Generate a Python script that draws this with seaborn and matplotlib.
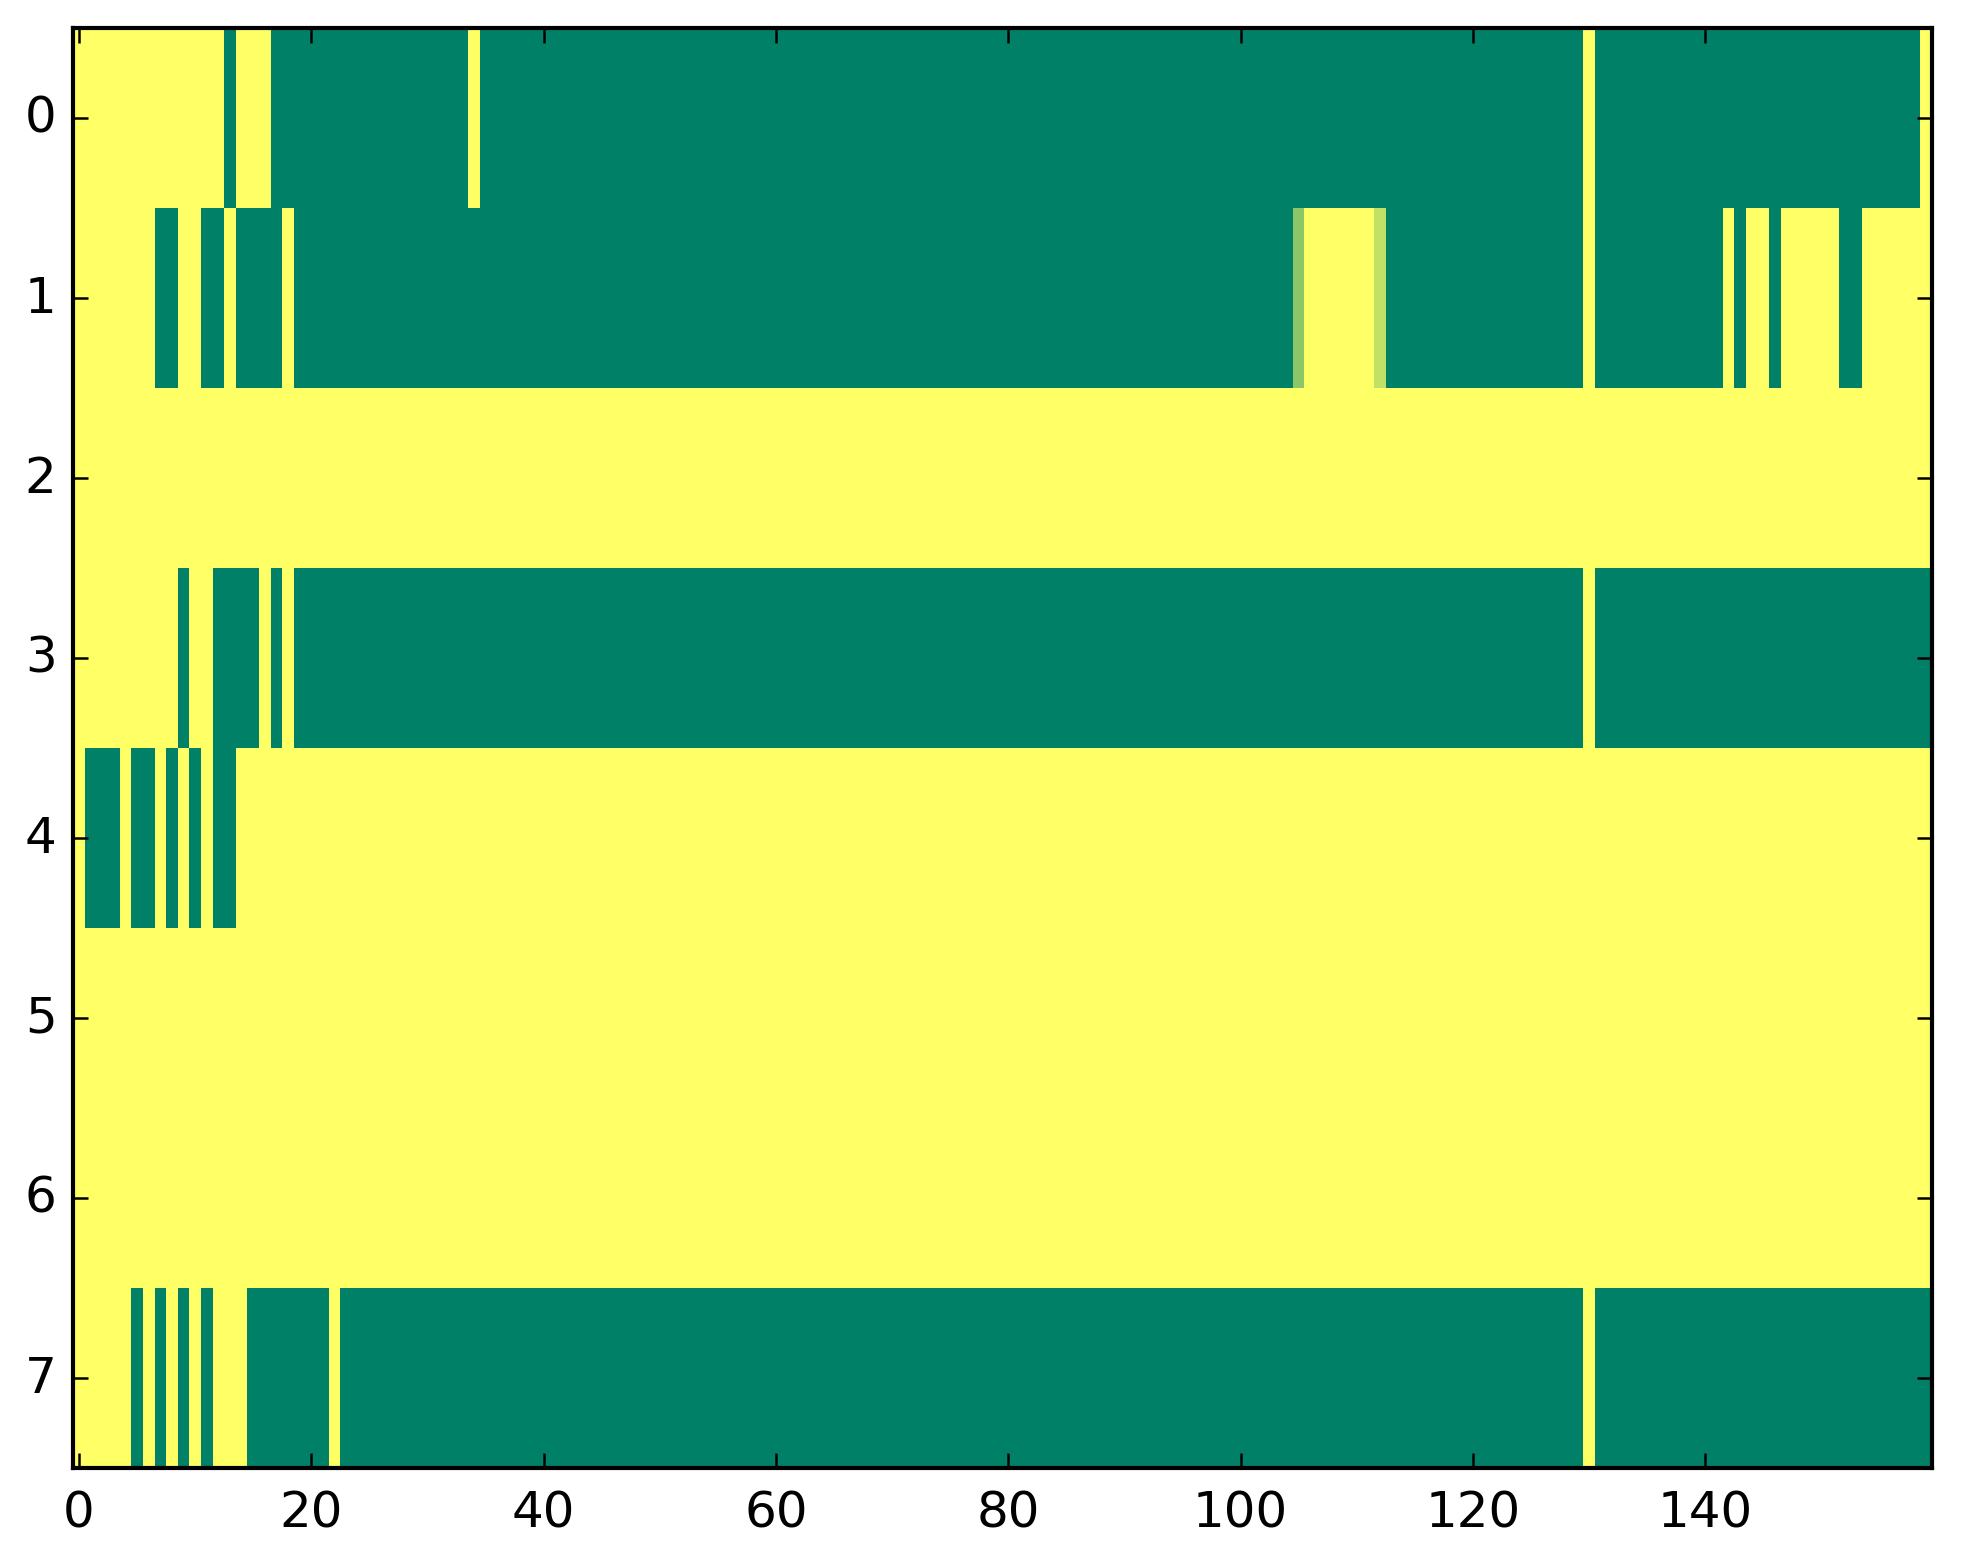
import numpy as np
import pandas as pd
import matplotlib
matplotlib.use("Agg")
import matplotlib.pyplot as plt
import seaborn as sns

# Run-length encoded rows: (value, count)
row0 = [(1, 13), (0, 1), (1, 3), (0, 17), (1, 1), (0, 95), (1, 1), (0, 28), (1, 1)]
row1 = [(1, 7), (0, 2), (1, 2), (0, 2), (1, 1), (0, 4), (1, 1), (0, 86), (0.55, 1),
        (1, 6), (0.75, 1), (0, 17), (1, 1), (0, 11), (1, 1), (0, 1), (1, 2), (0, 1),
        (1, 5), (0, 2), (1, 6)]
row2 = [(1, 160)]
row3 = [(1, 9), (0, 1), (1, 2), (0, 4), (1, 1), (0, 1), (1, 1), (0, 111), (1, 1), (0, 29)]
row4 = [(1, 1), (0, 3), (1, 1), (0, 2), (1, 1), (0, 1), (1, 1), (0, 1), (1, 1), (0, 2), (1, 146)]
row5 = [(1, 160)]
row6 = [(1, 160)]
row7 = [(1, 5), (0, 1), (1, 1), (0, 1), (1, 1), (0, 1), (1, 1), (0, 1), (1, 3), (0, 7),
        (1, 1), (0, 107), (1, 1), (0, 29)]

rows = [row0, row1, row2, row3, row4, row5, row6, row7]
xtick_vals = [0, 20, 40, 60, 80, 100, 120, 140]
ytick_vals = [0, 1, 2, 3, 4, 5, 6, 7]


def expand(runs):
    out = []
    for v, n in runs:
        out.extend([v] * n)
    return out


data = pd.DataFrame([expand(r) for r in rows])

plt.rcParams['font.family'] = ['DejaVu Sans']
fig = plt.figure(figsize=(1963 / 300, 1564 / 300), dpi=300)
ax = fig.add_axes([73.2 / 1963, 1 - 1468.7 / 1564, (1931.7 - 73.2) / 1963, 1440 / 1564])

sns.heatmap(data, cmap="summer", vmin=0, vmax=1, cbar=False, ax=ax, linewidths=0)

for s in ax.spines.values():
    s.set_visible(True)
    s.set_linewidth(1.0)
    s.set_color("black")

ax.set_xticks([v + 0.5 for v in xtick_vals])
ax.set_xticklabels([str(v) for v in xtick_vals], rotation=0)
ax.set_yticks([v + 0.5 for v in ytick_vals])
ax.set_yticklabels([str(v) for v in ytick_vals], rotation=0, va="center")
ax.tick_params(direction="in", top=True, right=True, bottom=True, left=True,
               length=3.5, width=0.6, labelsize=12, color="black")
ax.tick_params(axis="x", pad=5)
ax.tick_params(axis="y", pad=4)
ax.set_xlabel("")
ax.set_ylabel("")

fig.savefig("out.png", dpi=300)
